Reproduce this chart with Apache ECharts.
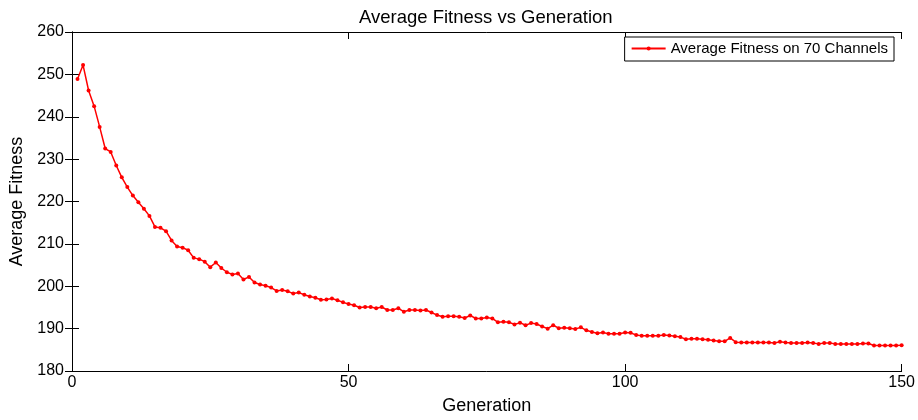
<!DOCTYPE html>
<html>
<head>
<meta charset="utf-8">
<script src="https://cdn.jsdelivr.net/npm/echarts@6/dist/echarts.min.js"></script>
<style>html,body{margin:0;padding:0;background:#fff;}#c{width:918px;height:420px;}</style>
</head>
<body>
<div id="c"></div>
<script>
const titleText = 'Average Fitness vs Generation';
const seriesName = 'Average Fitness on 70 Channels';
const xTicks = [0, 50, 100, 150];
const yTicks = [180, 190, 200, 210, 220, 230, 240, 250, 260];
const fitness = [
  248.9, 252.2, 246.2, 242.5, 237.6, 232.5, 231.7, 228.5, 225.7, 223.4,
  221.4, 219.8, 218.3, 216.6, 214.0, 213.8, 213.0, 210.8, 209.4, 209.1,
  208.5, 206.7, 206.4, 205.8, 204.5, 205.6, 204.3, 203.3, 202.8, 203.0,
  201.6, 202.2, 200.9, 200.4, 200.1, 199.7, 198.9, 199.1, 198.8, 198.3,
  198.5, 198.0, 197.6, 197.3, 196.8, 196.9, 197.1, 196.7, 196.2, 195.8,
  195.5, 195.0, 195.1, 195.1, 194.8, 195.1, 194.4, 194.4, 194.8, 194.0,
  194.4, 194.4, 194.3, 194.4, 193.8, 193.2, 192.8, 192.9, 192.9, 192.8,
  192.5, 193.1, 192.4, 192.4, 192.6, 192.4, 191.5, 191.6, 191.5, 191.0,
  191.4, 190.8, 191.3, 191.1, 190.5, 190.0, 190.8, 190.1, 190.2, 190.1,
  189.9, 190.3, 189.6, 189.2, 188.9, 189.1, 188.8, 188.8, 188.8, 189.1,
  189.0, 188.5, 188.3, 188.3, 188.3, 188.3, 188.5, 188.4, 188.2, 188.0,
  187.5, 187.6, 187.6, 187.5, 187.4, 187.2, 187.0, 187.0, 187.8, 186.8,
  186.7, 186.7, 186.7, 186.7, 186.7, 186.7, 186.6, 186.9, 186.7, 186.6,
  186.6, 186.6, 186.7, 186.6, 186.4, 186.6, 186.6, 186.4, 186.4, 186.4,
  186.4, 186.4, 186.5, 186.5, 186.0, 186.0, 186.0, 186.0, 186.0, 186.1
];
const FONT = '"Liberation Sans", Arial, sans-serif';
const chart = echarts.init(document.getElementById('c'), null, {renderer: 'canvas'});
const axisCommon = {
  axisLine: {show: true, lineStyle: {color: '#000', width: 1}},
  axisTick: {show: true, inside: true, length: 7, lineStyle: {color: '#000'}},
  splitLine: {show: false}
};
chart.setOption({
  animation: false,
  backgroundColor: '#fff',
  title: {
    text: titleText, left: 354, top: 3,
    textStyle: {fontFamily: FONT, fontSize: 18.5, fontWeight: 'normal', color: '#000'}
  },
  legend: {
    right: 24, top: 37,
    orient: 'horizontal',
    data: [seriesName],
    borderColor: '#000', borderWidth: 1, padding: [4, 6, 5, 6],
    itemWidth: 34, itemHeight: 5, itemGap: 4,
    backgroundColor: '#fff',
    textStyle: {fontFamily: FONT, fontSize: 15, color: '#000'}
  },
  grid: {left: 72, right: 15, top: 32, bottom: 48},
  xAxis: [
    Object.assign({}, axisCommon, {
      type: 'value', min: 0, max: 150, interval: 50, position: 'bottom',
      name: 'Generation', nameLocation: 'middle', nameGap: 26,
      nameTextStyle: {fontFamily: FONT, fontSize: 18, color: '#000'},
      axisLabel: {fontFamily: FONT, fontSize: 16, color: '#000', margin: 4}
    }),
    Object.assign({}, axisCommon, {
      type: 'value', min: 0, max: 150, interval: 50, position: 'top',
      axisLabel: {show: false}
    })
  ],
  yAxis: [
    Object.assign({}, axisCommon, {
      type: 'value', min: 180, max: 260, interval: 10, position: 'left',
      name: 'Average Fitness', nameLocation: 'middle', nameGap: 45,
      nameTextStyle: {fontFamily: FONT, fontSize: 18, color: '#000'},
      axisLabel: {fontFamily: FONT, fontSize: 16, color: '#000', margin: 8}
    }),
    Object.assign({}, axisCommon, {
      type: 'value', min: 180, max: 260, interval: 10, position: 'right',
      axisLabel: {show: false}
    })
  ],
  series: [{
    name: seriesName,
    type: 'line',
    xAxisIndex: 0, yAxisIndex: 0,
    data: fitness.map((v, i) => [i + 1, v]),
    symbol: 'circle', symbolSize: 4,
    lineStyle: {color: '#ff0000', width: 1.5},
    itemStyle: {color: '#ff0000'},
    showSymbol: true
  }]
});
</script>
</body>
</html>
